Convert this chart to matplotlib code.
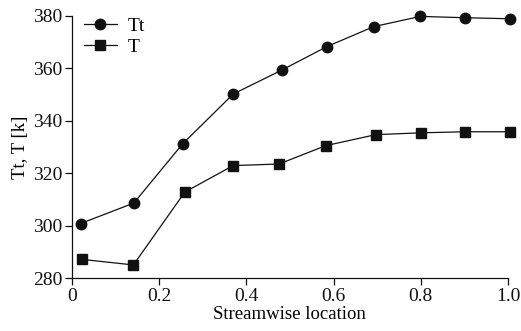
import matplotlib.pyplot as plt

plt.rcParams['font.family'] = ['Liberation Serif', 'DejaVu Serif']

x_tt = [0.02, 0.142, 0.254, 0.370, 0.481, 0.585, 0.692, 0.799, 0.901, 1.005]
tt = [300.8, 308.6, 331.2, 350.2, 359.3, 368.3, 375.9, 379.8, 379.3, 378.9]

x_t = [0.024, 0.141, 0.259, 0.370, 0.475, 0.582, 0.697, 0.801, 0.902, 1.005]
t = [287.1, 285.0, 312.8, 322.9, 323.5, 330.5, 334.7, 335.4, 335.8, 335.8]

fig = plt.figure(figsize=(5.21, 3.31), dpi=100)
ax = fig.add_axes([0.138, 0.160, 0.837, 0.792])

ax.plot(x_tt, tt, color='#111111', lw=0.9, marker='o', ms=7.5, label='Tt', clip_on=False)
ax.plot(x_t, t, color='#111111', lw=0.9, marker='s', ms=7, label='T', clip_on=False)

ax.set_xlim(0, 1.0)
ax.set_ylim(280, 380)
ax.set_xticks([0, 0.2, 0.4, 0.6, 0.8, 1.0])
ax.set_xticklabels(['0', '0.2', '0.4', '0.6', '0.8', '1.0'])
ax.set_yticks([280, 300, 320, 340, 360, 380])

for s in ['top', 'right']:
    ax.spines[s].set_visible(False)
for s in ['left', 'bottom']:
    ax.spines[s].set_linewidth(0.9)
    ax.spines[s].set_color('#111111')
ax.tick_params(direction='out', length=5, width=0.9, labelsize=14, colors='#111111', pad=2)

ax.set_xlabel('Streamwise location', fontsize=13.5, labelpad=1)
ax.set_ylabel('Tt, T [k]', fontsize=13.5, labelpad=3)

ax.legend(loc='upper left', frameon=False, fontsize=14, handlelength=1.7,
          borderaxespad=0.2, labelspacing=0.2, handletextpad=0.55,
          bbox_to_anchor=(0.0, 1.04))

fig.savefig('out.png', dpi=100)
